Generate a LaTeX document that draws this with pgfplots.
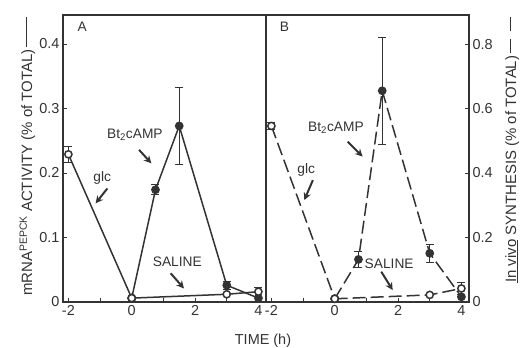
\documentclass[border=0pt]{standalone}
\usepackage{pgfplots}
\pgfplotsset{compat=1.18}
\usepackage{fontspec}
\setmainfont{Liberation Sans}
\usetikzlibrary{arrows.meta}
\definecolor{ink}{HTML}{333333}
\tikzset{
 ser/.style={ink, line width=1.5bp, mark size=3.6bp},
 filled/.style={mark=*, mark options={fill=ink, solid}},
 open/.style={mark=*, mark options={fill=white, solid}},
 ann/.style={font=\fontsize{13.8}{16}\selectfont, text=ink},
 arr/.style={ink, line width=2bp, -{Stealth[length=7.5bp, width=7.5bp]}},
}
\pgfplotsset{
 panel/.style={scale only axis, width=203bp, height=287bp, xmin=-2.17, xmax=4.24, ymin=0,
   clip=false, tick align=inside, major tick length=4bp,
   axis line style={ink, line width=1.3bp}, every tick/.style={ink, line width=1bp},
   xtick={-2,-1,0,1,2,3,4}, xticklabels={-2,,0,,2,,4}, xtick pos=left,
   ticklabel style={font=\fontsize{14.5}{16}\selectfont, text=ink},
   /pgf/number format/assume math mode=true},
 eb/.style={forget plot, only marks, mark=none, error bars/.cd, y dir=both, y explicit,
   error bar style={ink, solid, line width=0.9bp},
   error mark options={ink, rotate=90, mark size=4bp, solid, line width=0.9bp}},
}
\begin{document}
\begin{tikzpicture}[font=\fontsize{14}{16}\selectfont, color=ink]
\path[use as bounding box] (-63bp,-46bp) rectangle (457bp,302bp);
% ---------- Panel A ----------
\begin{axis}[panel, at={(0,0)}, anchor=south west, ymax=0.445,
  ytick={0,0.1,0.2,0.3,0.4}, yticklabels={0,0.1,0.2,0.3,0.4}, ytick pos=left]
\addplot[eb] coordinates {(-2,0.229) +- (0,0.012) (0.75,0.174) +- (0,0.008)
  (1.5,0.273) +- (0,0.059) (3,0.026) +- (0,0.006) (4,0.016) +- (0,0.007)};
\addplot[ser, filled] coordinates {(0,0.006) (0.75,0.174) (1.5,0.273) (3,0.026) (4,0.006)};
\addplot[ser, open] coordinates {(0,0.006) (3,0.012) (4,0.016)};
\addplot[ser, open] coordinates {(-2,0.229) (0,0.006)};
\node[ann] at (axis cs:-1.56,0.427) {A};
\node[ann] at (axis cs:0.1,0.259) {Bt\textsubscript{2}cAMP};
\draw[arr] (axis cs:0.23,0.236) -- (axis cs:0.62,0.215);
\node[ann] at (axis cs:-0.93,0.192) {glc};
\draw[arr] (axis cs:-0.77,0.176) -- (axis cs:-1.14,0.153);
\node[ann] at (axis cs:1.44,0.0625) {SALINE};
\draw[arr] (axis cs:1.23,0.0445) -- (axis cs:1.65,0.021);
\end{axis}
% ---------- Panel B ----------
\begin{axis}[panel, at={(203bp,0)}, anchor=south west, ymax=0.89,
  ytick={0,0.2,0.4,0.6,0.8}, yticklabels={0,0.2,0.4,0.6,0.8},
  ytick pos=right, yticklabel pos=right]
\addplot[eb] coordinates {(-2,0.546) +- (0,0.01) (0.75,0.132) +- (0,0.025)
  (1.5,0.655) +- (0,0.165) (3,0.151) +- (0,0.028) (4,0.042) +- (0,0.02)};
\addplot[ser, filled, dash pattern=on 13bp off 5bp] coordinates {(0,0.01) (0.75,0.132) (1.5,0.655) (3,0.151) (4,0.016)};
\addplot[ser, open, dash pattern=on 13bp off 5bp] coordinates {(0,0.01) (3,0.022) (4,0.042)};
\addplot[ser, open, dash pattern=on 13bp off 5bp] coordinates {(-2,0.546) (0,0.01)};
\node[ann] at (axis cs:-1.59,0.854) {B};
\node[ann] at (axis cs:0.04,0.539) {Bt\textsubscript{2}cAMP};
\draw[arr] (axis cs:0.41,0.497) -- (axis cs:0.88,0.451);
\node[ann] at (axis cs:-0.9,0.409) {glc};
\draw[arr] (axis cs:-0.69,0.378) -- (axis cs:-0.96,0.316);
\node[ann] at (axis cs:1.72,0.12) {SALINE};
\draw[arr] (axis cs:1.47,0.094) -- (axis cs:1.83,0.037);
\end{axis}
% ---------- labels ----------
\node[rotate=90, anchor=base, font=\fontsize{15}{18}\selectfont, text=ink] at (-31bp,145.5bp)
  {mRNA\textsuperscript{PEPCK} ACTIVITY (\% of TOTAL)\,\rule[0.32em]{30bp}{1.3bp}};
\node[rotate=90, anchor=base, font=\fontsize{15}{18}\selectfont, text=ink] at (453bp,152bp)
  {\underline{In vivo} SYNTHESIS (\% of TOTAL)\,\rule[0.32em]{14bp}{1.3bp}\hspace{8bp}\rule[0.32em]{14bp}{1.3bp}};
\node[font=\fontsize{14.5}{16}\selectfont, text=ink] at (200bp,-39bp) {TIME (h)};
\end{tikzpicture}
\end{document}
